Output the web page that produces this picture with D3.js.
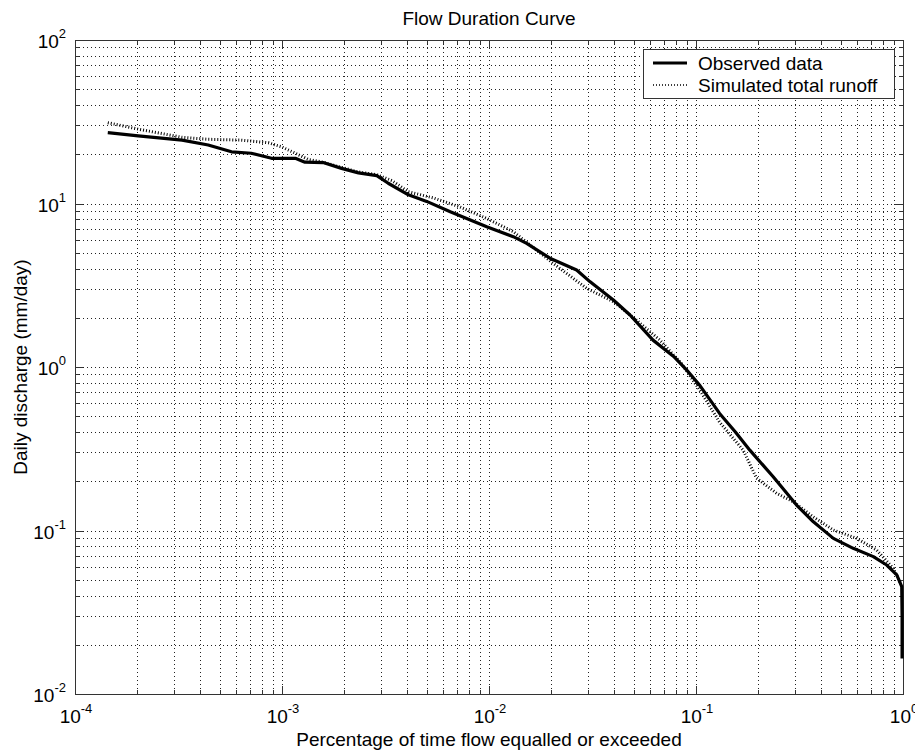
<!DOCTYPE html>
<html>
<head>
<meta charset="utf-8">
<script src="https://cdn.jsdelivr.net/npm/d3@7"></script>
<style>
  body { margin: 0; background: #fff; }
  text { font-family: "Liberation Sans", Arial, sans-serif; fill: #000; }
</style>
</head>
<body>
<svg id="chart" width="915" height="750"></svg>
<script>
// ---- data ----
const title = "Flow Duration Curve";
const xLabel = "Percentage of time flow equalled or exceeded";
const yLabel = "Daily discharge (mm/day)";
const seriesNames = ["Observed data", "Simulated total runoff"];

const obsX = [1.44e-4, 2.02e-4, 3.29e-4, 4.4e-4, 5.7e-4, 7.1e-4, 8.9e-4, 1.16e-3, 1.29e-3, 1.58e-3,
  1.94e-3, 2.34e-3, 2.87e-3, 3.26e-3, 4.08e-3, 5.0e-3, 6.5e-3, 7.8e-3, 9.75e-3, 1.31e-2,
  1.52e-2, 1.97e-2, 2.65e-2, 3.07e-2, 3.99e-2, 4.8e-2, 6.2e-2, 7.8e-2, 9.0e-2, 0.1045,
  0.13, 0.155, 0.182, 0.236, 0.306, 0.369, 0.461, 0.575, 0.719, 0.834,
  0.933, 0.986, 0.99, 0.99];
const obsY = [27.1, 25.9, 24.4, 22.8, 20.7, 20.3, 18.9, 18.9, 17.9, 17.8,
  16.4, 15.4, 14.8, 13.3, 11.3, 10.3, 8.9, 8.1, 7.2, 6.27,
  5.7, 4.63, 3.92, 3.33, 2.57, 2.08, 1.46, 1.16, 0.96, 0.77,
  0.52, 0.40, 0.31, 0.213, 0.143, 0.113, 0.0895, 0.0778, 0.0692, 0.0615,
  0.0535, 0.0453, 0.0297, 0.0165];

const simX = [1.44e-4, 2.02e-4, 3.29e-4, 4.4e-4, 6.4e-4, 8.6e-4, 9.96e-4, 1.16e-3, 1.34e-3, 1.58e-3,
  1.94e-3, 2.34e-3, 2.87e-3, 3.4e-3, 4.08e-3, 5.4e-3, 7.2e-3, 9.75e-3, 1.31e-2, 1.6e-2,
  2.12e-2, 2.96e-2, 3.99e-2, 5.0e-2, 6.7e-2, 8.5e-2, 0.1045, 0.13, 0.169, 0.196,
  0.245, 0.295, 0.369, 0.461, 0.597, 0.746, 0.898, 0.97];
const simY = [31.2, 28.5, 25.4, 24.7, 24.4, 23.5, 22.2, 20.3, 18.6, 17.9,
  16.6, 15.6, 15.0, 13.8, 11.8, 10.8, 9.55, 8.1, 6.73, 5.5,
  4.15, 3.03, 2.51, 2.0, 1.46, 1.05, 0.72, 0.46, 0.31, 0.209,
  0.169, 0.150, 0.121, 0.1007, 0.0895, 0.076, 0.0587, 0.048];

const xDomain = [1e-4, 1];
const yDomain = [1e-2, 1e2];

// ---- layout ----
const L = 75, R = 903, T = 40, B = 694;
const svg = d3.select("#chart");
const x = d3.scaleLog().domain(xDomain).range([L, R]);
const y = d3.scaleLog().domain(yDomain).range([B, T]);

const isMajor = v => Math.abs(Math.log10(v) - Math.round(Math.log10(v))) < 1e-9;
const xt = x.ticks();
const yt = y.ticks();

// grid
const grid = svg.append("g").attr("stroke", "#222").attr("stroke-width", 1)
  .attr("stroke-dasharray", "1,3").attr("shape-rendering", "crispEdges");
xt.forEach(v => {
  const px = Math.round(x(v)) + 0.5;
  grid.append("line").attr("x1", px).attr("x2", px).attr("y1", T).attr("y2", B);
});
yt.forEach(v => {
  const py = Math.round(y(v)) + 0.5;
  grid.append("line").attr("x1", L).attr("x2", R).attr("y1", py).attr("y2", py);
});

// ticks on all four sides (inward)
const tk = svg.append("g").attr("stroke", "#333").attr("stroke-width", 1).attr("shape-rendering", "crispEdges");
xt.forEach(v => {
  const px = Math.round(x(v)) + 0.5, len = isMajor(v) ? 8 : 4;
  tk.append("line").attr("x1", px).attr("x2", px).attr("y1", B).attr("y2", B - len);
  tk.append("line").attr("x1", px).attr("x2", px).attr("y1", T).attr("y2", T + len);
});
yt.forEach(v => {
  const py = Math.round(y(v)) + 0.5, len = isMajor(v) ? 8 : 4;
  tk.append("line").attr("x1", L).attr("x2", L + len).attr("y1", py).attr("y2", py);
  tk.append("line").attr("x1", R).attr("x2", R - len).attr("y1", py).attr("y2", py);
});

// frame
svg.append("rect").attr("x", L + 0.5).attr("y", T + 0.5).attr("width", R - L).attr("height", B - T)
  .attr("fill", "none").attr("stroke", "#333").attr("stroke-width", 1).attr("shape-rendering", "crispEdges");

// tick labels
function powLabel(g, v, px, py, anchor) {
  const e = Math.round(Math.log10(v));
  const t = g.append("text").attr("x", px).attr("y", py).attr("text-anchor", anchor).style("font-size", "19px");
  t.append("tspan").text("10");
  t.append("tspan").attr("dy", -10).style("font-size", "13px").text(String(e));
}
const lab = svg.append("g");
xt.filter(isMajor).forEach(v => powLabel(lab, v, x(v) + 1, B + 29, "middle"));
yt.filter(isMajor).forEach(v => powLabel(lab, v, L - 9, y(v) + 8, "end"));

// lines
const line = d3.line().x(d => x(d[0])).y(d => y(d[1]));
const obs = obsX.map((v, i) => [v, obsY[i]]);
const sim = simX.map((v, i) => [v, simY[i]]);

svg.append("path").datum(sim).attr("d", line).attr("fill", "none")
  .attr("stroke", "#000").attr("stroke-width", 3).attr("stroke-dasharray", "1,2");
svg.append("path").datum(obs).attr("d", line).attr("fill", "none")
  .attr("stroke", "#000").attr("stroke-width", 3.2).attr("stroke-linejoin", "round");

// title & axis labels
svg.append("text").attr("x", (L + R) / 2).attr("y", 25).attr("text-anchor", "middle")
  .style("font-size", "19px").text(title);
svg.append("text").attr("x", (L + R) / 2).attr("y", 746).attr("text-anchor", "middle")
  .style("font-size", "19px").text(xLabel);
svg.append("text").attr("transform", `translate(27,${(T + B) / 2}) rotate(-90)`).attr("text-anchor", "middle")
  .style("font-size", "19px").text(yLabel);

// legend
const lg = svg.append("g");
lg.append("rect").attr("x", 643.5).attr("y", 49.5).attr("width", 251).attr("height", 49)
  .attr("fill", "#fff").attr("stroke", "#333").attr("stroke-width", 1).attr("shape-rendering", "crispEdges");
lg.append("line").attr("x1", 653).attr("x2", 687).attr("y1", 63).attr("y2", 63)
  .attr("stroke", "#000").attr("stroke-width", 3);
lg.append("line").attr("x1", 653).attr("x2", 687).attr("y1", 85).attr("y2", 85)
  .attr("stroke", "#000").attr("stroke-width", 1.5).attr("stroke-dasharray", "1,2");
lg.append("text").attr("x", 698).attr("y", 70).style("font-size", "19px").text(seriesNames[0]);
lg.append("text").attr("x", 698).attr("y", 92).style("font-size", "19px").text(seriesNames[1]);
</script>
</body>
</html>
